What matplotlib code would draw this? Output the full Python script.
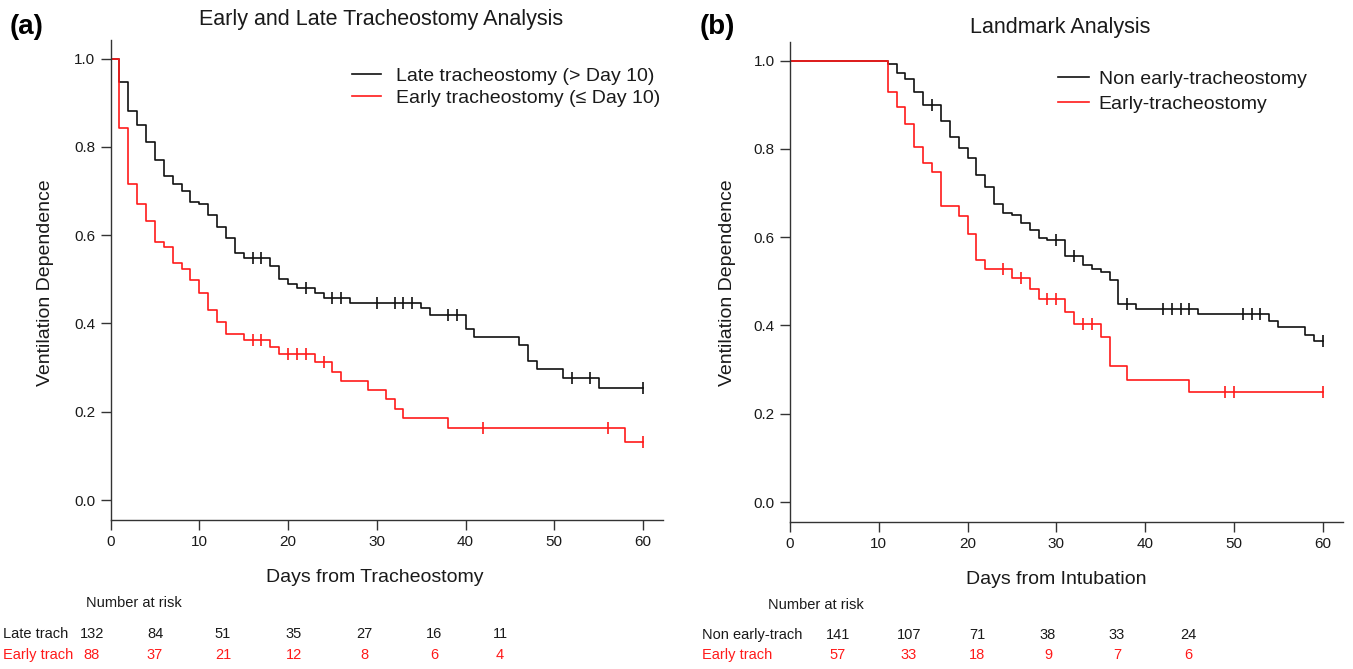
import numpy as np
import matplotlib
matplotlib.use("Agg")
import matplotlib.pyplot as plt

plt.rcParams['font.family'] = ['Liberation Sans', 'DejaVu Sans']

# ---------------- Data ----------------
# Panel (a): Early and Late Tracheostomy Analysis
late_a_time = [0, 1, 2, 3, 4, 5, 6, 7, 8, 9, 10, 11, 12, 13, 14, 15, 18, 19, 20, 21, 23, 24, 27,
               35, 36, 40, 41, 46, 47, 48, 51, 55]
late_a_surv = [1.0, 0.947, 0.881, 0.849, 0.810, 0.771, 0.734, 0.717, 0.700, 0.675, 0.670, 0.645,
               0.619, 0.593, 0.559, 0.549, 0.531, 0.500, 0.490, 0.481, 0.470, 0.458, 0.447,
               0.434, 0.419, 0.388, 0.370, 0.351, 0.315, 0.296, 0.276, 0.254]
late_a_censor = [16, 17, 22, 25, 26, 30, 32, 33, 34, 38, 39, 52, 54, 60]

early_a_time = [0, 1, 2, 3, 4, 5, 6, 7, 8, 9, 10, 11, 12, 13, 15, 18, 19, 23, 25, 26, 29, 31,
                32, 33, 38, 58]
early_a_surv = [1.0, 0.842, 0.717, 0.670, 0.632, 0.585, 0.574, 0.538, 0.524, 0.498, 0.470,
                0.430, 0.403, 0.376, 0.363, 0.347, 0.330, 0.312, 0.291, 0.269, 0.249, 0.228,
                0.207, 0.186, 0.164, 0.132]
early_a_censor = [16, 17, 20, 21, 22, 24, 42, 56, 60]

# Panel (b): Landmark Analysis
non_b_time = [0, 11, 12, 13, 14, 15, 17, 18, 19, 20, 21, 22, 23, 24, 25, 26, 27, 28, 29, 31,
              33, 34, 35, 36, 37, 39, 46, 54, 55, 58, 59]
non_b_surv = [1.0, 0.992, 0.971, 0.958, 0.929, 0.899, 0.863, 0.826, 0.803, 0.780, 0.741,
              0.714, 0.675, 0.655, 0.650, 0.633, 0.616, 0.599, 0.593, 0.557, 0.538, 0.529,
              0.521, 0.502, 0.449, 0.438, 0.425, 0.411, 0.396, 0.378, 0.364]
non_b_censor = [16, 30, 32, 38, 42, 43, 44, 45, 51, 52, 53, 60]

early_b_time = [0, 11, 12, 13, 14, 15, 16, 17, 19, 20, 21, 22, 25, 27, 28, 31, 32, 35, 36,
                38, 45]
early_b_surv = [1.0, 0.929, 0.895, 0.857, 0.804, 0.767, 0.747, 0.671, 0.648, 0.608, 0.549,
                0.529, 0.507, 0.483, 0.460, 0.430, 0.403, 0.374, 0.309, 0.276, 0.250]
early_b_censor = [24, 26, 29, 30, 33, 34, 49, 50, 60]

# Number at risk tables
risk_a_late = [132, 84, 51, 35, 27, 16, 11]
risk_a_early = [88, 37, 21, 12, 8, 6, 4]
risk_b_non = [141, 107, 71, 38, 33, 24]
risk_b_early = [57, 33, 18, 9, 7, 6]

x_ticks = [0, 10, 20, 30, 40, 50, 60]
y_ticks = [0.0, 0.2, 0.4, 0.6, 0.8, 1.0]

# ---------------- Figure ----------------
W, H = 1353, 669
fig = plt.figure(figsize=(W / 100, H / 100), dpi=100)

RED = '#FF1A1A'
BLK = '#111111'
TXT = '#1a1a1a'


def px(x, y):
    return x / W, 1 - y / H


def km(ax, times, surv, censor, color, end=60):
    t = list(times) + [end]
    s = list(surv) + [surv[-1]]
    ax.step(t, s, where='post', color=color, lw=1.2)
    idx = np.searchsorted(np.array(times), np.array(censor), side='right') - 1
    cy = np.array(surv)[idx]
    ax.plot(censor, cy, ls='none', marker='|', ms=8, mew=1.2, color=color)


def setup(ax):
    ax.set_xlim(0, 62.25)
    ax.set_ylim(-0.045, 1.042)
    for sp in ['top', 'right']:
        ax.spines[sp].set_visible(False)
    for sp in ['left', 'bottom']:
        ax.spines[sp].set_color('#333333')
        ax.spines[sp].set_linewidth(1.0)
    ax.set_xticks(x_ticks)
    ax.set_yticks(y_ticks)
    ax.set_yticklabels([f"{v:.1f}" for v in y_ticks])
    ax.tick_params(direction='out', length=7, width=1.0, color='#333333',
                   labelsize=11, labelcolor=TXT, pad=4)


# Panel (a)
axa = fig.add_axes([110.5 / W, 1 - 520 / H, 552.5 / W, 480 / H])
setup(axa)
km(axa, late_a_time, late_a_surv, late_a_censor, BLK)
km(axa, early_a_time, early_a_surv, early_a_censor, RED)
handles = [plt.Line2D([], [], color=BLK, lw=1.2), plt.Line2D([], [], color=RED, lw=1.2)]
axa.legend(handles, ['Late tracheostomy (> Day 10)', 'Early tracheostomy (\u2264 Day 10)'],
           loc='upper left', bbox_to_anchor=px(352, 67), bbox_transform=fig.transFigure,
           frameon=False, fontsize=14, handlelength=1.5, handletextpad=0.75,
           labelspacing=0.26, borderpad=0, borderaxespad=0, labelcolor=TXT)

# Panel (b)
axb = fig.add_axes([790 / W, 1 - 522 / H, 552.5 / W, 480 / H])
setup(axb)
km(axb, non_b_time, non_b_surv, non_b_censor, BLK)
km(axb, early_b_time, early_b_surv, early_b_censor, RED)
axb.legend(handles, ['Non early-tracheostomy', 'Early-tracheostomy'],
           loc='upper left', bbox_to_anchor=px(1058, 70), bbox_transform=fig.transFigure,
           frameon=False, fontsize=14, handlelength=1.6, handletextpad=0.5,
           labelspacing=0.4, borderpad=0, borderaxespad=0, labelcolor=TXT)

# Titles and labels
fig.text(*px(10, 27), '(a)', fontsize=20, fontweight='bold', va='center', ha='left')
fig.text(*px(700, 27), '(b)', fontsize=20, fontweight='bold', va='center', ha='left')
fig.text(*px(381, 20), 'Early and Late Tracheostomy Analysis', fontsize=15.5, ha='center',
         va='center', color=TXT)
fig.text(*px(1060, 27), 'Landmark Analysis', fontsize=15.5, ha='center', va='center', color=TXT)
fig.text(*px(375, 578), 'Days from Tracheostomy', fontsize=14, ha='center', va='center',
         color=TXT)
fig.text(*px(1056, 580), 'Days from Intubation', fontsize=14, ha='center', va='center',
         color=TXT)
fig.text(*px(46, 283), 'Ventilation Dependence', fontsize=14, ha='center', va='center',
         rotation=90, color=TXT)
fig.text(*px(727, 283), 'Ventilation Dependence', fontsize=14, ha='center', va='center',
         rotation=90, color=TXT)

# Number at risk tables
fig.text(*px(86, 603), 'Number at risk', fontsize=10.5, ha='left', va='center', color=TXT)
fig.text(*px(3, 634), 'Late trach', fontsize=10.5, ha='left', va='center', color=TXT)
fig.text(*px(3, 655), 'Early trach', fontsize=10.5, ha='left', va='center', color=RED)
cols_a = [92, 155, 223, 294, 364, 434, 500]
for x, n1, n2 in zip(cols_a, risk_a_late, risk_a_early):
    fig.text(*px(x, 634), str(n1), fontsize=10.5, ha='center', va='center', color=TXT)
    fig.text(*px(x, 655), str(n2), fontsize=10.5, ha='center', va='center', color=RED)

fig.text(*px(768, 605), 'Number at risk', fontsize=10.5, ha='left', va='center', color=TXT)
fig.text(*px(702, 635), 'Non early-trach', fontsize=10.5, ha='left', va='center', color=TXT)
fig.text(*px(702, 655), 'Early trach', fontsize=10.5, ha='left', va='center', color=RED)
cols_b = [838, 909, 977, 1048, 1117, 1188]
for x, n1, n2 in zip(cols_b, risk_b_non, risk_b_early):
    fig.text(*px(x, 635), str(n1), fontsize=10.5, ha='center', va='center', color=TXT)
    fig.text(*px(x, 655), str(n2), fontsize=10.5, ha='center', va='center', color=RED)

fig.savefig('out.png', dpi=100)
